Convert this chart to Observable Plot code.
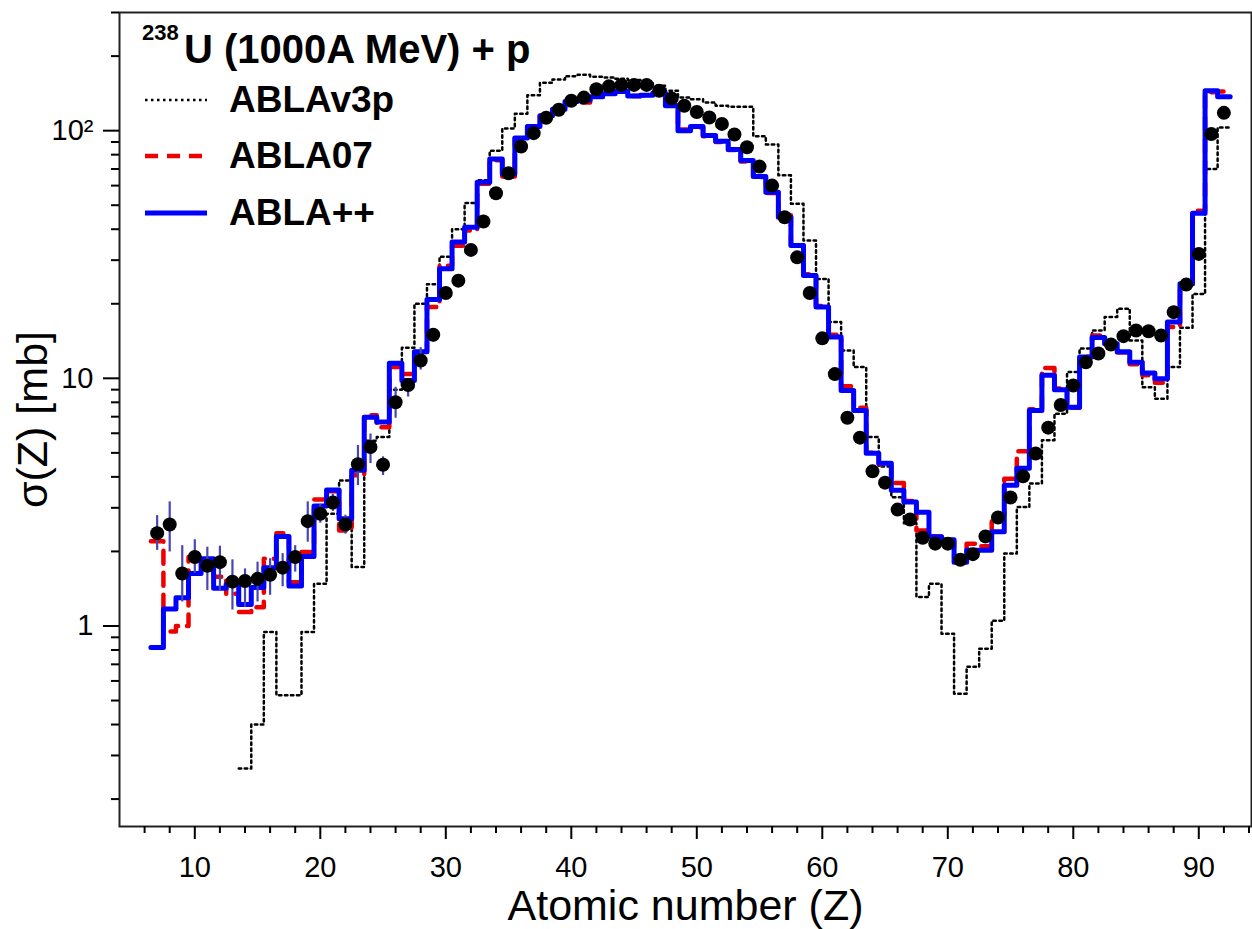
<!DOCTYPE html>
<html><head><meta charset="utf-8">
<script src="https://cdn.jsdelivr.net/npm/d3@7"></script>
<script src="https://cdn.jsdelivr.net/npm/@observablehq/plot@0.6"></script>
<style>body{margin:0;background:#fff} svg{display:block}</style>
</head><body><div id="chart"></div>
<script>
// Experimental data (black dots)
const zExp = [7,8,9,10,11,12,13,14,15,16,17,18,19,20,21,22,23,24,25,26,27,28,29,30,31,32,33,34,35,36,37,38,39,40,41,42,43,44,45,46,47,48,49,50,51,52,53,54,55,56,57,58,59,60,61,62,63,64,65,66,67,68,69,70,71,72,73,74,75,76,77,78,79,80,81,82,83,84,85,86,87,88,89,90,91,92];
const sigmaExp = [2.37,2.57,1.63,1.90,1.75,1.81,1.51,1.52,1.55,1.61,1.72,1.90,2.65,2.84,3.15,2.57,4.50,5.28,4.48,8.0,9.4,11.8,15.0,22.1,24.8,33.0,43.0,55.9,67.3,86.3,97.7,112.7,121.4,132,136,147,151,153,153,153,145,135,126,119,113,106.5,96.5,85.7,71.6,60,44.7,30.8,22.1,14.5,10.4,6.93,5.76,4.21,3.79,2.95,2.69,2.27,2.15,2.15,1.85,1.95,2.30,2.74,3.30,4.02,4.97,6.32,7.8,9.36,11.6,12.6,13.7,14.8,15.6,15.5,14.9,18.5,23.9,31.8,97,118];
// Error bars (visible ones)
const zErr = [7,8,9,10,11,12,13,14,15,16,17,18,19,20,21,22,23,24,25,26,27,28,29];
const errLo = [2.02,1.99,1.25,1.63,1.39,1.39,1.16,1.19,1.25,1.33,1.44,1.65,2.18,2.6,2.9,2.35,3.69,4.53,4.05,6.9,8.4,10.8,14.0];
const errHi = [2.79,3.17,2.11,2.23,2.08,2.10,1.85,1.70,1.81,1.87,1.96,2.11,3.17,3.1,3.4,2.8,5.36,5.96,4.82,9.2,9.8,13.3,15.8];
// Model calculations
const zModel = [7,8,9,10,11,12,13,14,15,16,17,18,19,20,21,22,23,24,25,26,27,28,29,30,31,32,33,34,35,36,37,38,39,40,41,42,43,44,45,46,47,48,49,50,51,52,53,54,55,56,57,58,59,60,61,62,63,64,65,66,67,68,69,70,71,72,73,74,75,76,77,78,79,80,81,82,83,84,85,86,87,88,89,90,91,92];
const ablaPP = [0.818,1.17,1.30,1.63,1.87,1.42,1.47,1.22,1.43,1.72,2.30,1.45,1.91,3.05,3.54,2.71,4.25,6.97,6.66,11.5,9.81,12.8,20.8,27.7,35.5,40.7,61.9,76.9,66.9,93.5,104,115,122,131,133,137,141,144,138,139,142,126,100,104,95.5,90.6,83.9,75.7,65.3,56.4,44.7,34.4,26.0,19.4,14.7,8.93,7.42,4.98,4.54,3.53,3.17,2.88,2.29,2.23,1.81,2.02,2.02,2.40,3.70,4.33,7.42,10.3,9.0,7.65,12.2,14.6,13.8,12.8,11.6,10.5,9.96,16.9,24.1,46.4,145,137];
const abla07 = [2.20,0.95,1.0,1.90,1.85,1.58,1.35,1.14,1.19,1.87,2.37,1.50,1.99,3.24,3.5,2.43,4.06,7.1,6.35,11.1,10.4,12.8,19.4,28.5,34.3,39.5,61,76,65.3,93,104,115,121,130,130,137,141,144,138,139,142,127,101,103,95,90,83.5,75,65,56,45.5,34.5,26.3,19.6,15.0,9.3,7.6,5.0,4.5,3.78,3.2,2.43,2.3,2.2,1.9,2.15,2.1,2.80,3.93,5.08,7.5,11.0,9.1,7.6,12.2,14.9,13.8,12.7,11.4,10.3,9.6,16.1,24.0,47.5,143,144];
const zV3p = [14,15,16,17,18,19,20,21,22,23,24,25,26,27,28,29,30,31,32,33,34,35,36,37,38,39,40,41,42,43,44,45,46,47,48,49,50,51,52,53,54,55,56,57,58,59,60,61,62,63,64,65,66,67,68,69,70,71,72,73,74,75,76,77,78,79,80,81,82,83,84,85,86,87,88,89,90,91,92];
const ablaV3p = [0.266,0.40,0.946,0.525,0.525,0.946,1.48,2.84,3.87,1.73,5.6,5.8,9.0,13.3,20.0,24,31,40,51,63,83,102,117,139,156,161,166,168,165,164,162,160,158,152,145,136,134,130,126,125,125,95,88,66,50.7,36,25.2,16.9,12.96,11.1,5.79,4.4,3.31,2.6,1.31,1.48,0.93,0.533,0.684,0.81,1.05,1.96,3.02,3.76,5.62,7.2,10.6,13.2,15.6,17.7,19.1,14.2,9.2,8.27,11.1,16.0,21.9,70,103];
// Ticks
const xMajor = [10,20,30,40,50,60,70,80,90];
const xMinor = [6,8,12,14,16,18,22,24,26,28,32,34,36,38,42,44,46,48,52,54,56,58,62,64,66,68,72,74,76,78,82,84,86,88,92,94];
const yMajor = [1,10,100];
const yMajorLabels = ["1","10","10²"];
const yMinor = [0.2,0.3,0.4,0.5,0.6,0.7,0.8,0.9,2,3,4,5,6,7,8,9,20,30,40,50,60,70,80,90,200,300];
// Text
const xTitle = "Atomic number (Z)";
const yTitle = "σ(Z) [mb]";
const legendNames = ["ABLAv3p","ABLA07","ABLA++"];

function stepTable(zs, vs){
  const rows = zs.map((z,i)=>({x:z-0.5, y:vs[i]}));
  rows.push({x:zs[zs.length-1]+0.5, y:vs[vs.length-1]});
  return rows;
}
const expRows = zExp.map((z,i)=>({z, v:sigmaExp[i]}));
const errRows = zErr.map((z,i)=>({z, lo:errLo[i], hi:errHi[i]}));
const font = "'Liberation Sans', Arial, Helvetica, sans-serif";

const chart = Plot.plot({
  width: 1252, height: 929,
  marginLeft: 119, marginRight: 1, marginTop: 12, marginBottom: 103,
  style: {fontFamily: font, color: "black", background: "white"},
  x: {domain: [4, 94.2]},
  y: {type: "log", domain: [0.155, 300]},
  marks: [
    Plot.line(stepTable(zV3p, ablaV3p), {x:"x", y:"y", curve:"step-after", stroke:"black", strokeWidth:2.5, strokeDasharray:"2.5,3.5"}),
    Plot.line(stepTable(zModel, abla07), {x:"x", y:"y", curve:"step-after", stroke:"#ee0000", strokeWidth:4.5, strokeDasharray:"13,9"}),
    Plot.line(stepTable(zModel, ablaPP), {x:"x", y:"y", curve:"step-after", stroke:"#0000ff", strokeWidth:5}),
    Plot.ruleX(errRows, {x:"z", y1:"lo", y2:"hi", stroke:"#4646b4", strokeWidth:2.2}),
    Plot.dot(expRows, {x:"z", y:"v", r:7, fill:"black", stroke:"none"}),
    Plot.frame({stroke:"#222", strokeWidth:2}),
    Plot.axisX(xMajor, {tickSize:13, tickPadding:17, fontSize:29, label:null, strokeWidth:2}),
    Plot.axisX(xMinor, {tickSize:7, tickFormat:()=>"", label:null, strokeWidth:2}),
    Plot.axisY(yMajor, {tickSize:16, tickPadding:10, fontSize:29, label:null, strokeWidth:2, tickFormat:d=>yMajorLabels[yMajor.indexOf(d)]}),
    Plot.axisY(yMinor, {tickSize:8, tickFormat:()=>"", label:null, strokeWidth:2}),
    Plot.text([xTitle], {frameAnchor:"bottom", textAnchor:"middle", lineAnchor:"bottom", dy:93, fontSize:43, fill:"black"}),
    Plot.text([yTitle], {frameAnchor:"left", textAnchor:"middle", lineAnchor:"middle", dx:-86, rotate:-90, fontSize:43, fill:"black"})
  ]
});
document.getElementById("chart").appendChild(chart);

// Legend overlay (inside frame, top-left)
const svg = d3.select(chart);
const g = svg.append("g").attr("font-family", font).attr("font-weight","bold").attr("fill","black").attr("text-anchor","start");
g.append("text").attr("x",142).attr("y",40).attr("font-size",22).text("238");
g.append("text").attr("x",184).attr("y",63).attr("font-size",40).text("U (1000A MeV) + p");
const styles = [
  {stroke:"black", w:2.5, dash:"2.5,3.5"},
  {stroke:"#ee0000", w:4.5, dash:"13,9"},
  {stroke:"#0000ff", w:5, dash:null}
];
const lineY = [100,156,213];
const textY = [112,168,225];
legendNames.forEach((name,i)=>{
  const l = g.append("line").attr("x1",145).attr("x2",207).attr("y1",lineY[i]).attr("y2",lineY[i])
    .attr("stroke",styles[i].stroke).attr("stroke-width",styles[i].w);
  if (styles[i].dash) l.attr("stroke-dasharray",styles[i].dash);
  g.append("text").attr("x",229).attr("y",textY[i]).attr("font-size",37).text(name);
});
</script>
</body></html>
